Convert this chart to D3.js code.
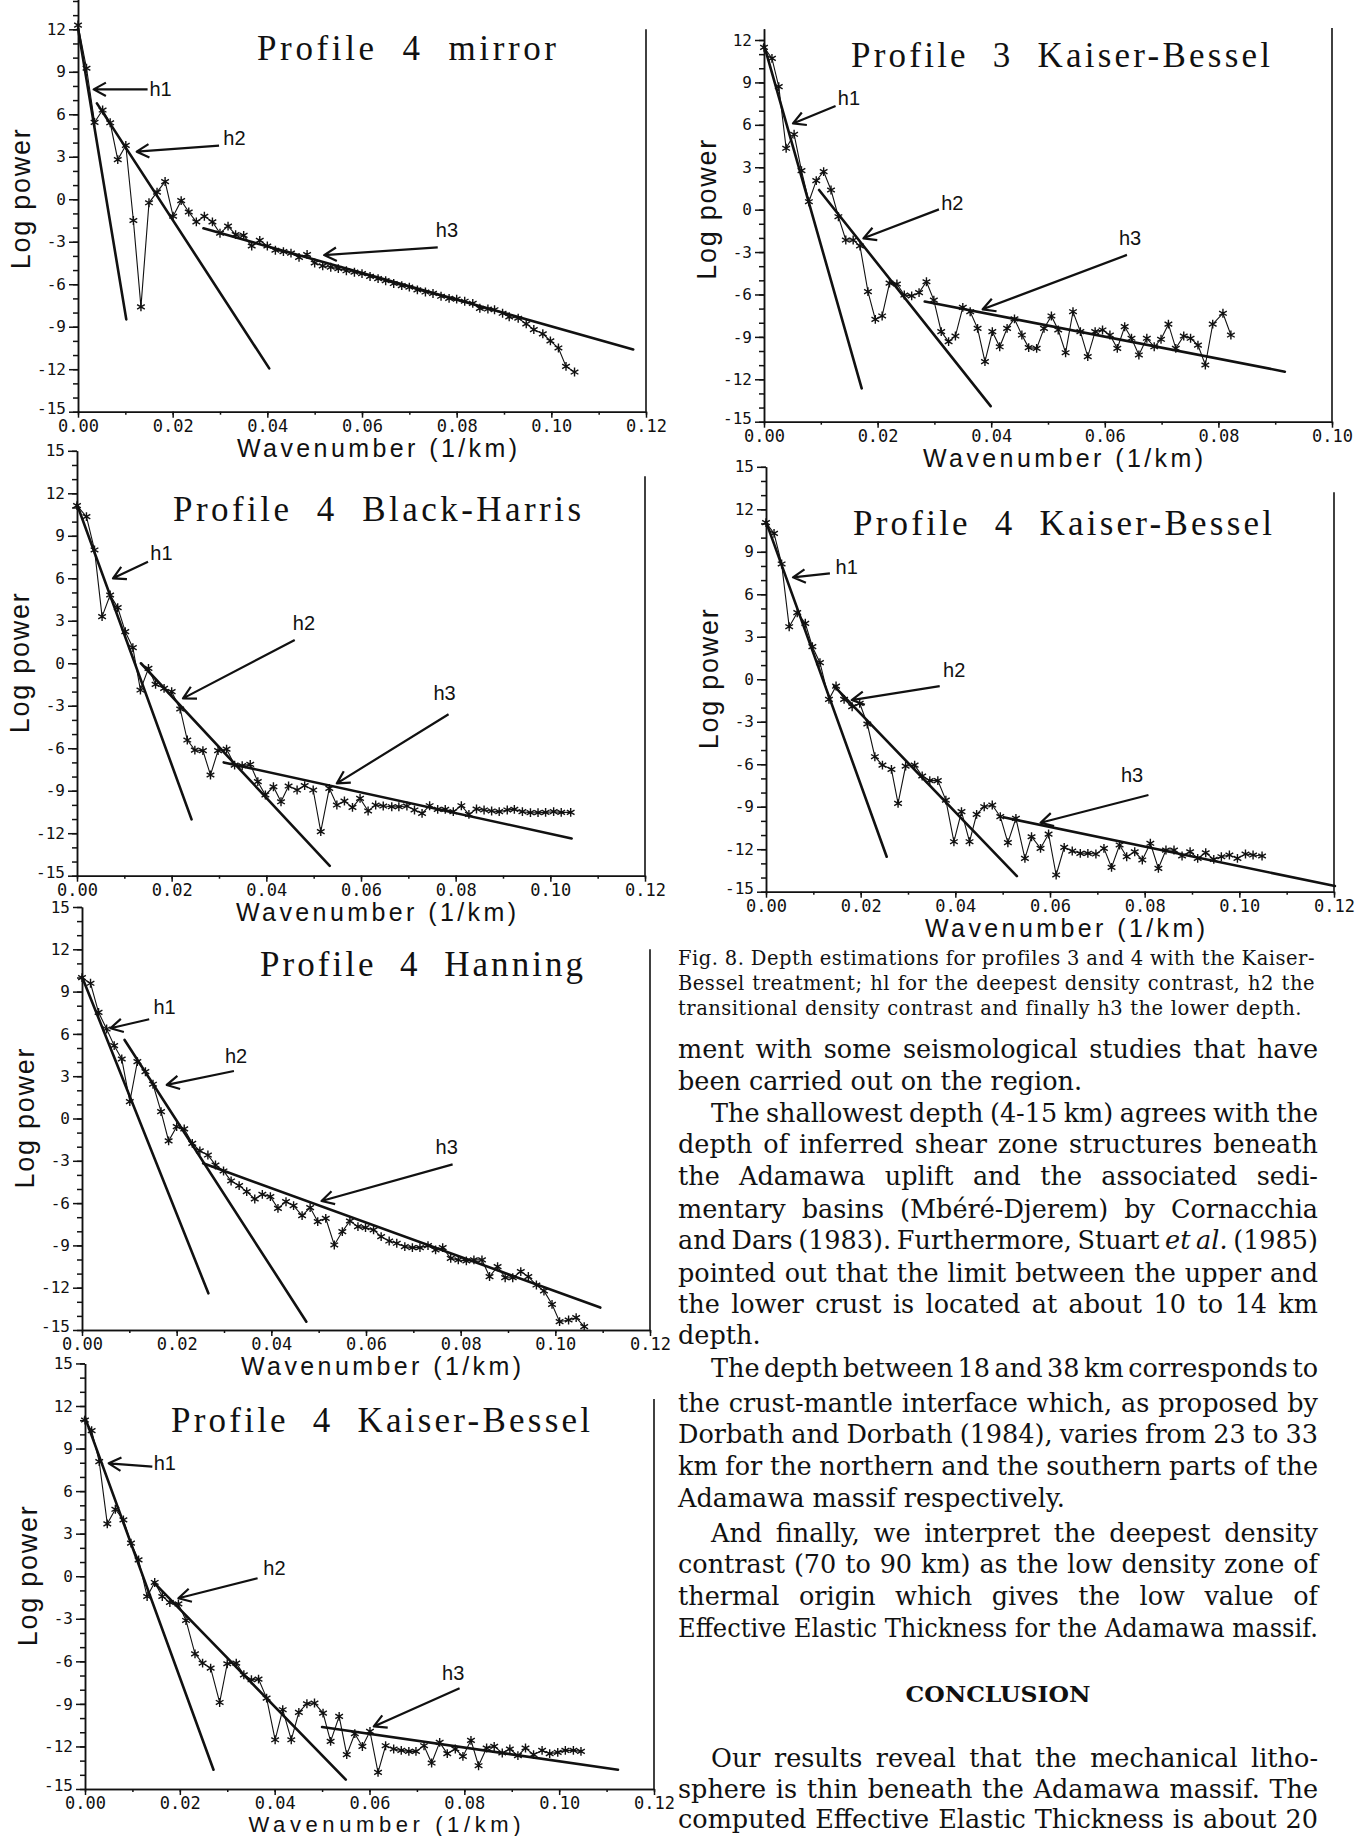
<!DOCTYPE html>
<html>
<head>
<meta charset="utf-8">
<script src="https://cdn.jsdelivr.net/npm/d3@7"></script>
<style>
  body { margin: 0; background: #fff; }
  svg { display: block; }
</style>
</head>
<body>
<div id="page"></div>
<script>
// tick labels
const kTicks12 = [0, 0.02, 0.04, 0.06, 0.08, 0.10, 0.12];
const kTicks10 = [0, 0.02, 0.04, 0.06, 0.08, 0.10];
const kMinor12 = [0, 0.01, 0.02, 0.03, 0.04, 0.05, 0.06, 0.07, 0.08, 0.09, 0.10, 0.11, 0.12];
const kMinor10 = [0, 0.01, 0.02, 0.03, 0.04, 0.05, 0.06, 0.07, 0.08, 0.09, 0.10];
const powerTicks = [-15, -12, -9, -6, -3, 0, 3, 6, 9, 12, 15];
const powerMinor = [-15,-14,-13,-12,-11,-10,-9,-8,-7,-6,-5,-4,-3,-2,-1,0,1,2,3,4,5,6,7,8,9,10,11,12,13,14,15];

// [wavenumber, log power]
const p4mirror = [[0,12.3],[0.0018,9.25],[0.0035,5.43],[0.0052,6.3],[0.0068,5.4],[0.0084,2.8],[0.0101,3.8],[0.0117,-1.5],[0.0133,-7.6],[0.015,-0.25],[0.0167,0.5],[0.0184,1.25],[0.0201,-1.2],[0.0218,-0.1],[0.0234,-0.9],[0.025,-1.6],[0.0267,-1.2],[0.0284,-1.6],[0.03,-2.4],[0.0317,-1.9],[0.0333,-2.5],[0.035,-2.55],[0.0367,-3.3],[0.0384,-2.9],[0.04,-3.3],[0.0417,-3.6],[0.0434,-3.7],[0.045,-3.8],[0.0467,-4.1],[0.0484,-3.9],[0.05,-4.5],[0.0517,-4.7],[0.0534,-4.8],[0.055,-4.9],[0.0567,-5.05],[0.0584,-5.15],[0.06,-5.25],[0.0617,-5.45],[0.0634,-5.6],[0.065,-5.75],[0.0667,-5.95],[0.0684,-6.1],[0.07,-6.2],[0.0717,-6.4],[0.0734,-6.55],[0.075,-6.65],[0.0767,-6.85],[0.0784,-7.0],[0.08,-7.05],[0.0817,-7.2],[0.0834,-7.35],[0.0849,-7.7],[0.0866,-7.75],[0.088,-7.8],[0.0897,-8.05],[0.0911,-8.3],[0.093,-8.4],[0.0947,-8.8],[0.0963,-9.2],[0.0982,-9.5],[0.0998,-10.0],[0.1015,-10.5],[0.1031,-11.8],[0.1049,-12.2]];
const p3kaiser = [[0,11.48],[0.0014,10.7],[0.0026,8.7],[0.0039,4.34],[0.0053,5.33],[0.0066,2.76],[0.0079,0.56],[0.0092,2.05],[0.0105,2.69],[0.0118,1.39],[0.0131,-0.5],[0.0144,-2.15],[0.0157,-2.15],[0.0169,-2.57],[0.0183,-5.8],[0.0196,-7.76],[0.0208,-7.52],[0.0221,-5.2],[0.0234,-5.26],[0.0247,-6.04],[0.026,-6.1],[0.0273,-5.87],[0.0286,-5.1],[0.0299,-6.4],[0.0312,-8.63],[0.0325,-9.34],[0.0337,-8.94],[0.035,-6.91],[0.0363,-7.22],[0.0376,-8.4],[0.0389,-10.75],[0.0402,-8.63],[0.0415,-9.7],[0.0428,-8.4],[0.0441,-7.73],[0.0454,-8.87],[0.0466,-9.76],[0.048,-9.81],[0.0493,-8.4],[0.0506,-7.52],[0.0518,-8.51],[0.0531,-10.12],[0.0544,-7.22],[0.0557,-8.63],[0.057,-10.4],[0.0583,-8.63],[0.0596,-8.51],[0.0609,-8.87],[0.0622,-9.81],[0.0635,-8.28],[0.0647,-9.1],[0.066,-10.28],[0.0674,-9.1],[0.0687,-9.7],[0.0699,-9.17],[0.0712,-8.1],[0.0725,-9.81],[0.0739,-8.94],[0.0751,-9.1],[0.0764,-9.58],[0.0777,-10.99],[0.079,-8.1],[0.0808,-7.33],[0.0822,-8.87]];
const p4blackHarris = [[0,11.13],[0.002,10.35],[0.0037,8.0],[0.0053,3.29],[0.007,4.82],[0.0086,3.93],[0.0102,2.23],[0.0118,1.1],[0.0134,-1.89],[0.0151,-0.36],[0.0166,-1.49],[0.0184,-1.77],[0.02,-2.0],[0.0218,-3.23],[0.0233,-5.42],[0.0249,-6.13],[0.0266,-6.17],[0.0282,-7.89],[0.0298,-6.17],[0.0316,-6.06],[0.0333,-7.19],[0.0349,-7.23],[0.0366,-7.14],[0.0382,-8.36],[0.0398,-9.3],[0.0415,-8.72],[0.0431,-9.78],[0.0447,-8.67],[0.0465,-8.95],[0.0481,-8.64],[0.0499,-8.95],[0.0515,-11.89],[0.0533,-8.83],[0.0549,-10.01],[0.0565,-9.73],[0.0582,-10.18],[0.0598,-9.54],[0.0615,-10.43],[0.0631,-10.01],[0.0647,-10.08],[0.0665,-10.13],[0.068,-10.13],[0.0697,-10.08],[0.0713,-10.36],[0.0729,-10.6],[0.0745,-10.06],[0.0762,-10.32],[0.0778,-10.32],[0.0795,-10.48],[0.0812,-10.06],[0.0828,-10.67],[0.0844,-10.29],[0.086,-10.36],[0.0876,-10.43],[0.0892,-10.48],[0.0909,-10.36],[0.0924,-10.32],[0.0941,-10.48],[0.0958,-10.55],[0.0974,-10.55],[0.099,-10.53],[0.1007,-10.48],[0.1023,-10.53],[0.1043,-10.53]];
const p4kaiserA = [[0,11.06],[0.0017,10.3],[0.0033,8.14],[0.0049,3.71],[0.0066,4.7],[0.0083,3.95],[0.0098,2.3],[0.0114,1.17],[0.0133,-1.42],[0.0148,-0.48],[0.0165,-1.42],[0.0182,-1.94],[0.0198,-1.7],[0.0214,-3.16],[0.023,-5.47],[0.0246,-6.06],[0.0265,-6.36],[0.0279,-8.76],[0.0295,-6.13],[0.0314,-6.06],[0.033,-6.83],[0.0346,-7.16],[0.0363,-7.16],[0.038,-8.53],[0.0397,-11.47],[0.0413,-9.35],[0.043,-11.47],[0.0445,-9.54],[0.0461,-9.0],[0.0478,-8.88],[0.0495,-9.7],[0.0511,-11.54],[0.0528,-9.82],[0.0547,-12.65],[0.0561,-11.12],[0.058,-11.94],[0.0597,-10.93],[0.0613,-13.82],[0.063,-11.87],[0.0647,-12.13],[0.0664,-12.29],[0.068,-12.29],[0.0697,-12.34],[0.0714,-11.94],[0.073,-13.28],[0.0747,-11.7],[0.0762,-12.53],[0.0779,-12.18],[0.0795,-12.76],[0.0812,-11.58],[0.0829,-13.35],[0.0845,-12.06],[0.0862,-12.06],[0.0879,-12.48],[0.0896,-12.18],[0.0912,-12.65],[0.0929,-12.25],[0.0946,-12.72],[0.0962,-12.53],[0.0979,-12.41],[0.0996,-12.65],[0.1013,-12.34],[0.1029,-12.41],[0.1048,-12.48]];
const p4hanning = [[0,9.99],[0.0018,9.59],[0.0035,7.53],[0.0052,6.35],[0.0068,5.17],[0.0084,4.22],[0.0101,1.2],[0.0117,4.03],[0.0134,3.32],[0.015,2.43],[0.0167,0.49],[0.0183,-1.59],[0.02,-0.58],[0.0216,-0.74],[0.0233,-1.76],[0.0249,-2.3],[0.0266,-2.59],[0.0282,-3.3],[0.0299,-3.72],[0.0315,-4.43],[0.0332,-4.76],[0.0348,-5.19],[0.0365,-5.71],[0.0381,-5.38],[0.0398,-5.54],[0.0414,-6.37],[0.0431,-5.9],[0.0447,-6.18],[0.0465,-6.89],[0.0482,-6.32],[0.0498,-7.31],[0.0515,-7.08],[0.0533,-8.97],[0.055,-8.02],[0.0566,-7.27],[0.0583,-7.67],[0.0599,-7.74],[0.0616,-7.9],[0.0632,-8.38],[0.0649,-8.69],[0.0665,-8.85],[0.0682,-9.09],[0.0698,-9.16],[0.0714,-9.16],[0.0731,-9.02],[0.0747,-9.32],[0.0762,-9.16],[0.0779,-9.92],[0.0795,-10.03],[0.0812,-10.1],[0.0828,-10.03],[0.0845,-10.03],[0.0861,-11.21],[0.0878,-10.51],[0.0894,-11.29],[0.091,-11.29],[0.0927,-10.86],[0.0943,-11.21],[0.096,-11.81],[0.0976,-12.23],[0.0993,-13.18],[0.1009,-14.41],[0.1028,-14.29],[0.1044,-14.12],[0.1061,-14.76]];
const p4kaiserB = [[0,11.01],[0.0014,10.26],[0.003,8.08],[0.0047,3.69],[0.0064,4.72],[0.0081,3.97],[0.0097,2.33],[0.0113,1.15],[0.0131,-1.43],[0.0147,-0.44],[0.0163,-1.43],[0.0179,-1.85],[0.0197,-1.95],[0.0213,-3.12],[0.0232,-5.47],[0.0248,-6.13],[0.0265,-6.48],[0.0284,-8.9],[0.03,-6.17],[0.0319,-6.13],[0.0335,-6.95],[0.0351,-7.3],[0.0366,-7.25],[0.0383,-8.59],[0.0401,-11.53],[0.0417,-9.41],[0.0435,-11.53],[0.0451,-9.6],[0.0468,-8.99],[0.0484,-8.94],[0.0502,-9.65],[0.0518,-11.64],[0.0536,-9.88],[0.0552,-12.58],[0.0569,-11.1],[0.0585,-12.0],[0.0601,-10.94],[0.0618,-13.83],[0.0634,-11.95],[0.0651,-12.18],[0.0667,-12.28],[0.0683,-12.35],[0.0698,-12.35],[0.0715,-11.95],[0.0731,-13.17],[0.0748,-11.71],[0.0764,-12.51],[0.0781,-12.18],[0.0797,-12.7],[0.0814,-11.57],[0.083,-13.36],[0.0847,-12.11],[0.0863,-12.0],[0.088,-12.46],[0.0896,-12.18],[0.0913,-12.65],[0.0929,-12.11],[0.0946,-12.58],[0.0964,-12.28],[0.098,-12.51],[0.0997,-12.42],[0.1013,-12.28],[0.103,-12.28],[0.1046,-12.35]];

// fitted segments h1, h2, h3: [k1, p1, k2, p2]
const p4mirrorFits = [[0,12.07,0.0102,-8.48],[0.004,6.77,0.0404,-11.94],[0.0265,-2.05,0.1173,-10.6]];
const p3kaiserFits = [[0,11.65,0.0172,-12.64],[0.0097,1.39,0.0399,-13.9],[0.0283,-6.5,0.0917,-11.46]];
const p4blackHarrisFits = [[0,11.22,0.0242,-11.02],[0.0135,0.0,0.0534,-14.3],[0.031,-7.0,0.1045,-12.37]];
const p4kaiserAFits = [[0,11.13,0.0255,-12.53],[0.0144,-0.48,0.053,-13.9],[0.0502,-9.75,0.1202,-14.6]];
const p4hanningFits = [[0,10.06,0.0267,-12.4],[0.009,5.57,0.0474,-14.41],[0.0256,-3.18,0.1095,-13.41]];
const p4kaiserBFits = [[0,11.2,0.0271,-13.64],[0.0145,-0.44,0.055,-14.34],[0.05,-10.63,0.1124,-13.64]];

// arrows: [head k, head p, tail k, tail p, label k, label p, label]
const p4mirrorArrows = [[0.0033,7.76,0.0147,7.76,0.0151,7.8,'h1'],[0.0124,3.36,0.0298,3.78,0.0307,4.3,'h2'],[0.052,-3.94,0.076,-3.4,0.0756,-2.2,'h3']];
const p3kaiserArrows = [[0.0051,6.1,0.0126,7.33,0.013,7.9,'h1'],[0.0175,-2.03,0.0308,0.02,0.0312,0.45,'h2'],[0.0385,-7.05,0.0639,-3.2,0.0625,-2.03,'h3']];
const p4blackHarrisArrows = [[0.0076,6.0,0.015,7.17,0.0155,7.76,'h1'],[0.0224,-2.48,0.046,1.64,0.0456,2.82,'h2'],[0.0549,-8.48,0.0785,-3.6,0.0753,-2.12,'h3']];
const p4kaiserAArrows = [[0.0057,7.2,0.0135,7.48,0.0147,7.95,'h1'],[0.0181,-1.47,0.0367,-0.48,0.0374,0.65,'h2'],[0.058,-10.13,0.0808,-8.17,0.075,-6.76,'h3']];
const p4hanningArrows = [[0.006,6.4,0.0142,7.04,0.0151,7.93,'h1'],[0.0179,2.38,0.0321,3.37,0.0302,4.4,'h2'],[0.0506,-5.85,0.0783,-3.25,0.0747,-2.0,'h3']];
const p4kaiserBArrows = [[0.005,7.96,0.0142,7.73,0.0145,7.96,'h1'],[0.0197,-1.55,0.0364,-0.14,0.0376,0.57,'h2'],[0.0609,-10.59,0.079,-7.89,0.0753,-6.83,'h3']];

const panels = [
  {title: 'Profile  4  mirror', data: p4mirror, fits: p4mirrorFits, arrows: p4mirrorArrows,
   x0: 78, x1: 646, kMax: 0.12, major: kTicks12, minor: kMinor12, y12: 29.3, y15: 411.7, yTop: 15, rTop: 12, tdx: 179, tdy: 31, tlen: 299, xl: 45, xlSize: 25, xlLen: 280, pad: 2},
  {title: 'Profile  3  Kaiser-Bessel', data: p3kaiser, fits: p3kaiserFits, arrows: p3kaiserArrows,
   x0: 764, x1: 1332, kMax: 0.10, major: kTicks10, minor: kMinor10, y12: 40, y15: 421.7, yTop: 12.8, rTop: 12.85, tdx: 87, tdy: 27, tlen: 419, xl: 45, xlSize: 25, xlLen: 280, pad: 2},
  {title: 'Profile  4  Black-Harris', data: p4blackHarris, fits: p4blackHarrisFits, arrows: p4blackHarrisArrows,
   x0: 77, x1: 645, kMax: 0.12, major: kTicks12, minor: kMinor12, y12: 493.3, y15: 875.7, yTop: 15, rTop: 13.2, tdx: 96, tdy: 28, tlen: 408, xl: 45, xlSize: 25, xlLen: 280, pad: 2},
  {title: 'Profile  4  Kaiser-Bessel', data: p4kaiserA, fits: p4kaiserAFits, arrows: p4kaiserAArrows,
   x0: 766, x1: 1334, kMax: 0.12, major: kTicks12, minor: kMinor12, y12: 509.3, y15: 891.7, yTop: 15, rTop: 13.2, tdx: 87, tdy: 26, tlen: 419, xl: 45, xlSize: 25, xlLen: 280, pad: 2},
  {title: 'Profile  4  Hanning', data: p4hanning, fits: p4hanningFits, arrows: p4hanningArrows,
   x0: 82, x1: 650, kMax: 0.12, major: kTicks12, minor: kMinor12, y12: 949.3, y15: 1330, yTop: 15, rTop: 12, tdx: 178, tdy: 27, tlen: 323, xl: 45, xlSize: 25, xlLen: 280, pad: 2},
  {title: 'Profile  4  Kaiser-Bessel', data: p4kaiserB, fits: p4kaiserBFits, arrows: p4kaiserBArrows,
   x0: 85, x1: 654, kMax: 0.12, major: kTicks12, minor: kMinor12, y12: 1406, y15: 1789, yTop: 15, rTop: 12.5, tdx: 86, tdy: 26, tlen: 419, xl: 42.5, xlSize: 22, xlLen: 272, pad: 1.5}
];

const ink = '#111';
const svg = d3.select('#page').append('svg').attr('width', 1368).attr('height', 1836);
svg.append('rect').attr('width', 1368).attr('height', 1836).attr('fill', '#fff');

const star = d3.symbol().type(d3.symbolAsterisk || d3.symbolCross).size(55);

panels.forEach(p => {
  const x = d3.scaleLinear().domain([0, p.kMax]).range([p.x0, p.x1]);
  const y = d3.scaleLinear().domain([-15, 12]).range([p.y15, p.y12]);
  const yA = d3.scaleLinear().domain([-15, p.yTop]).range([y(-15), y(p.yTop)]);
  const g = svg.append('g');

  // y axis: minor and labelled ticks (labels above the page edge are skipped)
  g.append('g').attr('transform', `translate(${p.x0},0)`)
    .call(d3.axisLeft(yA).tickValues(powerMinor.filter(v => v <= p.yTop)).tickSize(5).tickSizeOuter(0).tickFormat(''));
  const ya = g.append('g').attr('transform', `translate(${p.x0},0)`)
    .call(d3.axisLeft(yA).tickValues(powerTicks.filter(v => v <= p.yTop && y(v) > 8)).tickSize(9).tickPadding(3).tickSizeOuter(0).tickFormat(d => String(d)));
  ya.selectAll('text').attr('font-family', 'DejaVu Sans Mono').attr('font-size', 16).attr('fill', ink);
  // the bottom label sits a touch higher so it clears the "0.00" below it
  ya.selectAll('.tick').filter(d => d === -15).select('text').attr('dy', '0.1em');

  // x axis
  g.append('g').attr('transform', `translate(0,${p.y15})`)
    .call(d3.axisBottom(x).tickValues(p.minor).tickSize(3).tickSizeOuter(0).tickFormat(''));
  const xa = g.append('g').attr('transform', `translate(0,${p.y15})`)
    .call(d3.axisBottom(x).tickValues(p.major).tickSize(6).tickPadding(p.pad).tickSizeOuter(0).tickFormat(d => d.toFixed(2)));
  xa.selectAll('text').attr('font-family', 'DejaVu Sans Mono').attr('font-size', 17).attr('fill', ink);

  g.selectAll('path.domain, .tick line').attr('stroke', ink).attr('stroke-width', 1.5);

  // right frame line
  g.append('line').attr('x1', x(p.kMax)).attr('x2', x(p.kMax))
    .attr('y1', y(p.rTop)).attr('y2', y(-15)).attr('stroke', ink).attr('stroke-width', 1.6);

  // axis titles
  g.append('text').attr('transform', `translate(${p.x0 - 57},${y(0)}) rotate(-90)`)
    .attr('text-anchor', 'middle').attr('dominant-baseline', 'central')
    .attr('font-family', 'Liberation Sans').attr('font-size', 27).attr('fill', ink)
    .attr('textLength', 140).attr('lengthAdjust', 'spacing').text('Log power');
  g.append('text').attr('x', (p.x0 + p.x1) / 2 + 15).attr('y', p.y15 + p.xl)
    .attr('text-anchor', 'middle').attr('font-family', 'Liberation Sans').attr('font-size', p.xlSize).attr('fill', ink)
    .attr('textLength', p.xlLen).attr('lengthAdjust', 'spacing').text('Wavenumber (1/km)');

  // title
  g.append('text').attr('x', p.x0 + p.tdx).attr('y', p.y12 + p.tdy)
    .attr('font-family', 'Liberation Serif').attr('font-size', 35).attr('fill', ink)
    .style('white-space', 'pre')
    .attr('textLength', p.tlen).attr('lengthAdjust', 'spacing').text(p.title);

  // fitted lines
  g.selectAll('.fit').data(p.fits).enter().append('line')
    .attr('x1', d => x(d[0])).attr('y1', d => y(d[1]))
    .attr('x2', d => x(d[2])).attr('y2', d => y(d[3]))
    .attr('stroke', ink).attr('stroke-width', 2.6).attr('stroke-linecap', 'round');

  // spectrum
  const line = d3.line().x(d => x(d[0])).y(d => y(d[1]));
  g.append('path').datum(p.data).attr('d', line)
    .attr('fill', 'none').attr('stroke', ink).attr('stroke-width', 1.1);
  g.selectAll('.pt').data(p.data).enter().append('path')
    .attr('transform', d => `translate(${x(d[0])},${y(d[1])})`)
    .attr('d', star).attr('fill', 'none').attr('stroke', ink).attr('stroke-width', 1.4);

  // arrows with labels
  p.arrows.forEach(a => {
    const hx = x(a[0]), hy = y(a[1]), tx = x(a[2]), ty = y(a[3]);
    const ang = Math.atan2(ty - hy, tx - hx);
    const L = 14;
    const pth = d3.path();
    pth.moveTo(tx, ty); pth.lineTo(hx, hy);
    pth.moveTo(hx + L * Math.cos(ang - 0.5), hy + L * Math.sin(ang - 0.5));
    pth.lineTo(hx, hy);
    pth.lineTo(hx + L * Math.cos(ang + 0.5), hy + L * Math.sin(ang + 0.5));
    g.append('path').attr('d', pth.toString()).attr('fill', 'none')
      .attr('stroke', ink).attr('stroke-width', 2.2).attr('stroke-linejoin', 'round');
    g.append('text').attr('x', x(a[4])).attr('y', y(a[5]))
      .attr('dominant-baseline', 'central')
      .attr('font-family', 'Liberation Sans').attr('font-size', 20).attr('fill', ink).text(a[6]);
  });
});

// caption and body text of the right column
const captionLines = [
  {t: 'Fig. 8. Depth estimations for profiles 3 and 4 with the Kaiser-', y: 965, w: 637},
  {t: 'Bessel treatment; hl for the deepest density contrast, h2 the', y: 990, w: 637},
  {t: 'transitional density contrast and finally h3 the lower depth.', y: 1015, w: 624}
];
const bodyLines = [
  {t: 'ment with some seismological studies that have', y: 1058, j: true},
  {t: 'been carried out on the region.', y: 1090},
  {t: 'The shallowest depth (4-15 km) agrees with the', y: 1122, ind: true, j: true},
  {t: 'depth of inferred shear zone structures beneath', y: 1153, j: true},
  {t: 'the Adamawa uplift and the associated sedi-', y: 1185, j: true},
  {t: 'mentary basins (Mbéré-Djerem) by Cornacchia', y: 1218, j: true},
  {t: ['and Dars (1983). Furthermore, Stuart ', 'et al.', ' (1985)'], y: 1249, j: true},
  {t: 'pointed out that the limit between the upper and', y: 1282, j: true},
  {t: 'the lower crust is located at about 10 to 14 km', y: 1313, j: true},
  {t: 'depth.', y: 1344},
  {t: 'The depth between 18 and 38 km corresponds to', y: 1377, ind: true, j: true},
  {t: 'the crust-mantle interface which, as proposed by', y: 1412, j: true},
  {t: 'Dorbath and Dorbath (1984), varies from 23 to 33', y: 1443, j: true},
  {t: 'km for the northern and the southern parts of the', y: 1475, j: true},
  {t: 'Adamawa massif respectively.', y: 1507},
  {t: 'And finally, we interpret the deepest density', y: 1542, ind: true, j: true},
  {t: 'contrast (70 to 90 km) as the low density zone of', y: 1573, j: true},
  {t: 'thermal origin which gives the low value of', y: 1605, j: true},
  {t: 'Effective Elastic Thickness for the Adamawa massif.', y: 1637, j: true},
  {t: 'Our results reveal that the mechanical litho-', y: 1767, ind: true, j: true},
  {t: 'sphere is thin beneath the Adamawa massif. The', y: 1798, j: true},
  {t: 'computed Effective Elastic Thickness is about 20', y: 1828, j: true}
];

const colL = 678, colR = 1318, indent = 33;

function justify(node, width) {
  const len = node.getComputedTextLength();
  const spaces = (node.textContent.match(/ /g) || []).length;
  const extra = width - len;
  if (spaces > 0 && extra / spaces > -4) {
    d3.select(node).attr('word-spacing', extra / spaces);
  } else {
    d3.select(node).attr('textLength', width).attr('lengthAdjust', 'spacingAndGlyphs');
  }
}

captionLines.forEach(l => {
  const t = svg.append('text').attr('x', colL).attr('y', l.y)
    .attr('font-family', 'DejaVu Serif').attr('letter-spacing', 0.5)
    .attr('font-size', 19.5).attr('fill', ink).text(l.t);
  justify(t.node(), l.w);
});

bodyLines.forEach(l => {
  const x0 = colL + (l.ind ? indent : 0);
  const t = svg.append('text').attr('x', x0).attr('y', l.y)
    .attr('font-family', 'DejaVu Serif').attr('font-size', 25.5).attr('fill', ink)
    .style('white-space', 'pre');
  if (Array.isArray(l.t)) {
    l.t.forEach((s, i) => t.append('tspan').attr('font-style', i === 1 ? 'italic' : null).text(s));
  } else {
    t.text(l.t);
  }
  if (l.j) justify(t.node(), colR - x0);
});

svg.append('text').attr('x', (colL + colR) / 2).attr('y', 1702).attr('text-anchor', 'middle')
  .attr('font-family', 'DejaVu Serif').attr('font-weight', 'bold').attr('font-size', 22).attr('fill', ink)
  .attr('textLength', 185).attr('lengthAdjust', 'spacingAndGlyphs').text('CONCLUSION');
</script>
</body>
</html>
